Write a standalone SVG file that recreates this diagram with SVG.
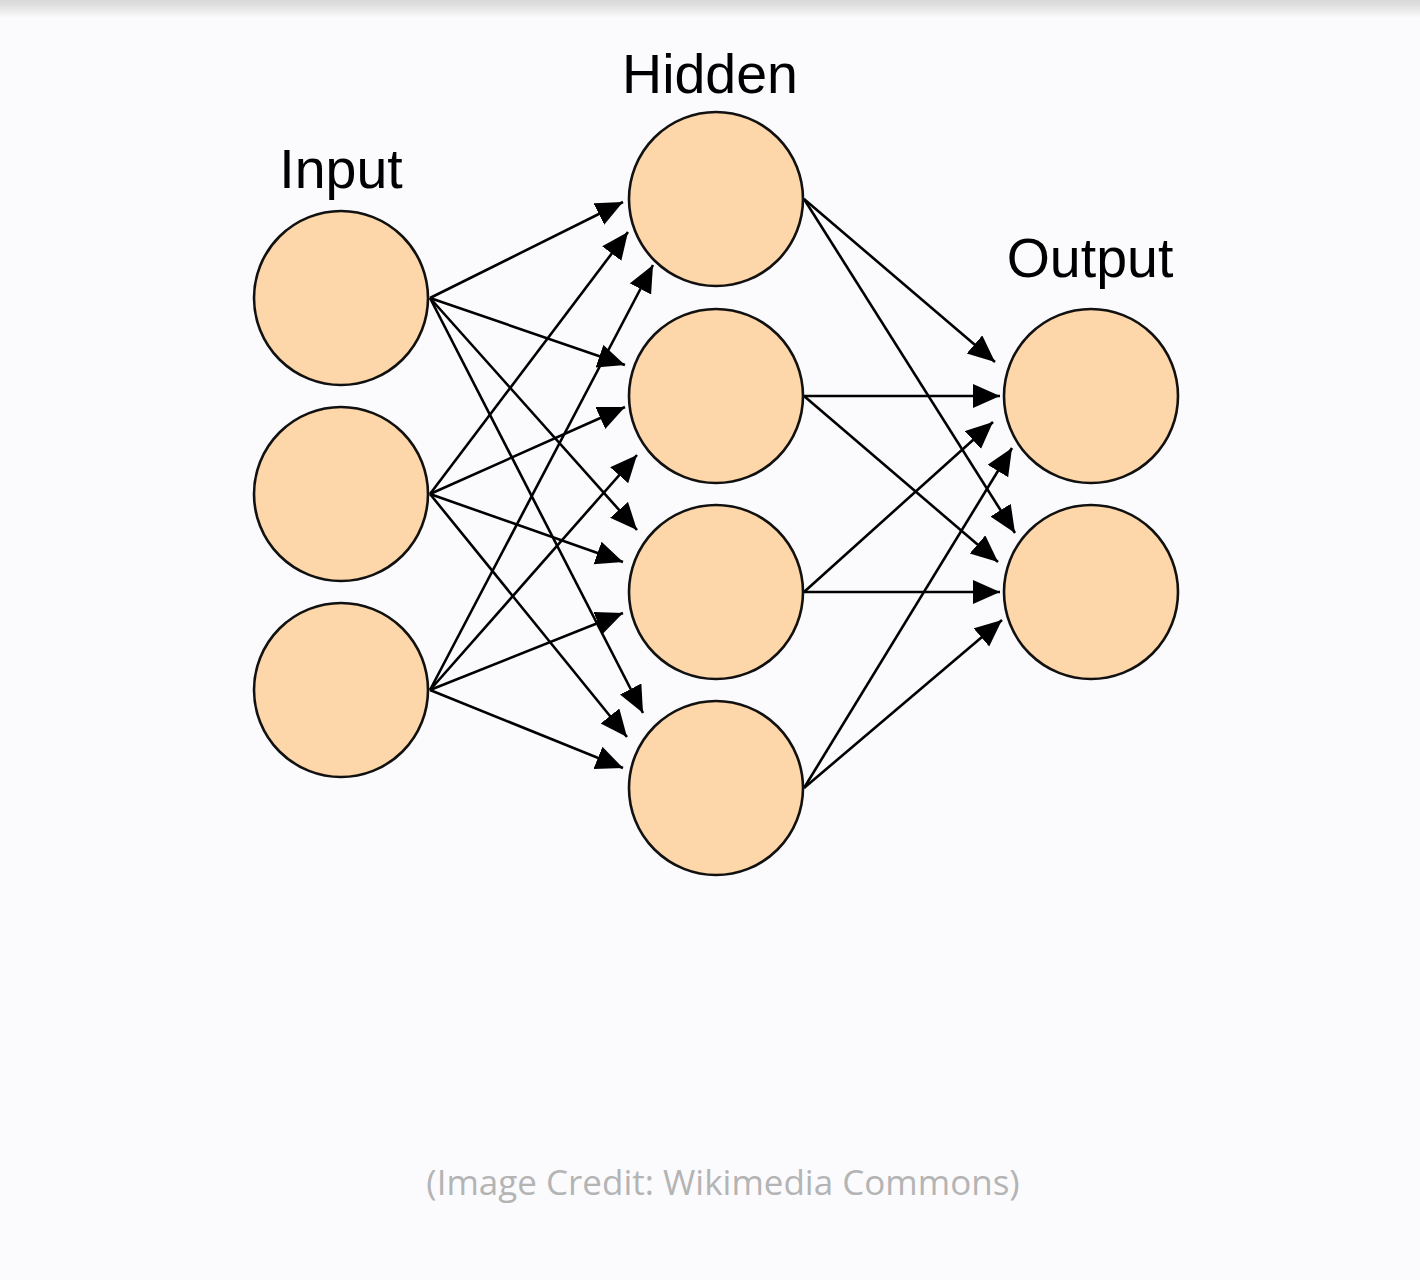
<svg xmlns="http://www.w3.org/2000/svg" width="1420" height="1280" viewBox="0 0 1420 1280">
<defs>
<linearGradient id="topbar" x1="0" y1="0" x2="0" y2="1">
<stop offset="0" stop-color="#d9d9d9"/>
<stop offset="0.25" stop-color="#dedede"/>
<stop offset="1" stop-color="#fbfbfd"/>
</linearGradient>
<marker id="arrow" markerUnits="userSpaceOnUse" markerWidth="30" markerHeight="26" refX="27" refY="12" orient="auto">
<path d="M0,0 L27,12 L0,24 z" fill="#000"/>
</marker>
</defs>
<style>
.node{fill:#fdd6a9;stroke:#111;stroke-width:2.6}
.edge{stroke:#000;stroke-width:2.6;fill:none;marker-end:url(#arrow)}
.label{font-family:"Liberation Sans",Arial,sans-serif;font-size:55.5px;fill:#000}
.credit{font-family:"Open Sans","Noto Sans",sans-serif;font-size:35px;fill:#b4b4b4}
</style>
<rect x="0" y="0" width="1420" height="1280" fill="#fbfbfd"/>
<rect x="0" y="0" width="1420" height="18" fill="url(#topbar)"/>
<g id="connectors">
<line class="edge" x1="430" y1="298" x2="623" y2="202"/>
<line class="edge" x1="430" y1="494" x2="628" y2="232"/>
<line class="edge" x1="430" y1="690" x2="653" y2="265"/>
<line class="edge" x1="430" y1="298" x2="625" y2="365"/>
<line class="edge" x1="430" y1="494" x2="625" y2="407"/>
<line class="edge" x1="430" y1="690" x2="637" y2="455"/>
<line class="edge" x1="430" y1="298" x2="637" y2="530"/>
<line class="edge" x1="430" y1="494" x2="623" y2="562"/>
<line class="edge" x1="430" y1="690" x2="623" y2="613"/>
<line class="edge" x1="430" y1="298" x2="643" y2="713"/>
<line class="edge" x1="430" y1="494" x2="627" y2="737"/>
<line class="edge" x1="430" y1="690" x2="623" y2="768"/>
<line class="edge" x1="804" y1="199" x2="995" y2="362"/>
<line class="edge" x1="804" y1="396" x2="1000" y2="396"/>
<line class="edge" x1="804" y1="592" x2="993" y2="422"/>
<line class="edge" x1="804" y1="788" x2="1012" y2="448"/>
<line class="edge" x1="804" y1="199" x2="1015" y2="533"/>
<line class="edge" x1="804" y1="396" x2="998" y2="562"/>
<line class="edge" x1="804" y1="592" x2="1000" y2="592"/>
<line class="edge" x1="804" y1="788" x2="1002" y2="620"/>
</g>
<g id="input-1"><circle class="node" cx="341" cy="298" r="87"/></g>
<g id="input-2"><circle class="node" cx="341" cy="494" r="87"/></g>
<g id="input-3"><circle class="node" cx="341" cy="690" r="87"/></g>
<g id="hidden-1"><circle class="node" cx="716" cy="199" r="87"/></g>
<g id="hidden-2"><circle class="node" cx="716" cy="396" r="87"/></g>
<g id="hidden-3"><circle class="node" cx="716" cy="592" r="87"/></g>
<g id="hidden-4"><circle class="node" cx="716" cy="788" r="87"/></g>
<g id="output-1"><circle class="node" cx="1091" cy="396" r="87"/></g>
<g id="output-2"><circle class="node" cx="1091" cy="592" r="87"/></g>
<text class="label" x="341" y="188" text-anchor="middle">Input</text>
<text class="label" x="710" y="93" text-anchor="middle">Hidden</text>
<text class="label" x="1090" y="277" text-anchor="middle">Output</text>
<text class="credit" x="723" y="1195" text-anchor="middle">(Image Credit: Wikimedia Commons)</text>
</svg>
